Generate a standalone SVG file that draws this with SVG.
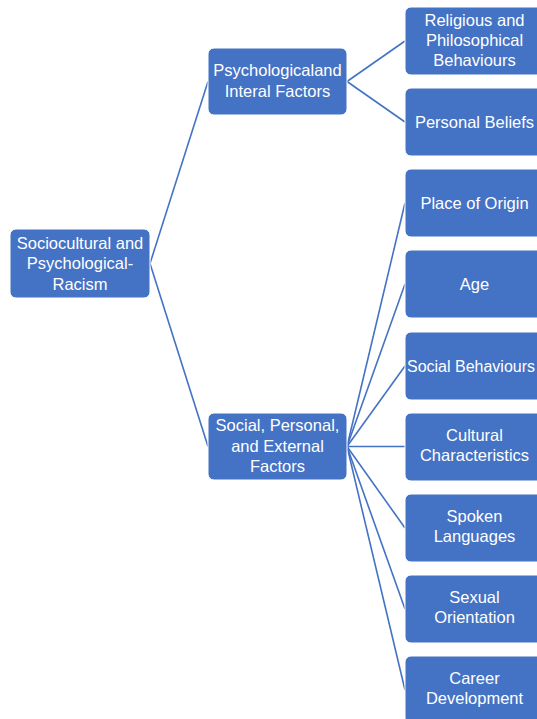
<svg xmlns="http://www.w3.org/2000/svg" width="537" height="719" viewBox="0 0 537 719">
<style>
.box{fill:#4472C4;stroke:#ffffff;stroke-width:1}
.t{font-family:"Liberation Sans",Arial,sans-serif;font-size:16.5px;fill:#ffffff;text-anchor:middle}
.c{stroke:#4472C4;stroke-width:1.6;fill:none}
</style>
<rect width="537" height="719" fill="#ffffff"/>
<g id="connectors">
<line class="c" x1="150" y1="263.5" x2="208" y2="81.5"/>
<line class="c" x1="150" y1="263.5" x2="208" y2="446.5"/>
<line class="c" x1="347" y1="81.5" x2="405" y2="41"/>
<line class="c" x1="347" y1="81.5" x2="405" y2="122"/>
<line class="c" x1="347" y1="446.5" x2="405" y2="203"/>
<line class="c" x1="347" y1="446.5" x2="405" y2="284"/>
<line class="c" x1="347" y1="446.5" x2="405" y2="366"/>
<line class="c" x1="347" y1="446.5" x2="405" y2="446.5"/>
<line class="c" x1="347" y1="446.5" x2="405" y2="528"/>
<line class="c" x1="347" y1="446.5" x2="405" y2="609"/>
<line class="c" x1="347" y1="446.5" x2="405" y2="690"/>
</g>
<g id="root">
<rect class="box" x="10" y="229" width="140" height="69" rx="6"/>
<text class="t" x="80" y="248.5">Sociocultural and</text>
<text class="t" x="80" y="269">Psychological-</text>
<text class="t" x="80" y="289.5">Racism</text>
</g>
<g id="psych">
<rect class="box" x="208" y="48" width="139" height="67" rx="6"/>
<text class="t" x="277.5" y="76">Psychologicaland</text>
<text class="t" x="277.5" y="97">Interal Factors</text>
</g>
<g id="social">
<rect class="box" x="208" y="413" width="139" height="67" rx="6"/>
<text class="t" x="277.5" y="431">Social, Personal,</text>
<text class="t" x="277.5" y="451.5">and External</text>
<text class="t" x="277.5" y="472">Factors</text>
</g>
<g id="religious">
<rect class="box" x="405" y="7" width="140" height="68" rx="6"/>
<text class="t" x="474.5" y="25.5">Religious and</text>
<text class="t" x="474.5" y="45.5">Philosophical</text>
<text class="t" x="474.5" y="65.5">Behaviours</text>
</g>
<g id="beliefs">
<rect class="box" x="405" y="88" width="140" height="68" rx="6"/>
<text class="t" x="474.5" y="128">Personal Beliefs</text>
</g>
<g id="origin">
<rect class="box" x="405" y="169" width="140" height="68" rx="6"/>
<text class="t" x="474.5" y="208.5">Place of Origin</text>
</g>
<g id="age">
<rect class="box" x="405" y="250" width="140" height="68" rx="6"/>
<text class="t" x="474.5" y="289.5">Age</text>
</g>
<g id="socialbeh">
<rect class="box" x="405" y="332" width="140" height="68" rx="6"/>
<text class="t" x="471" y="371.5" style="font-size:16px">Social Behaviours</text>
</g>
<g id="cultural">
<rect class="box" x="405" y="413" width="140" height="68" rx="6"/>
<text class="t" x="474.5" y="440.5">Cultural</text>
<text class="t" x="474.5" y="461">Characteristics</text>
</g>
<g id="spoken">
<rect class="box" x="405" y="494" width="140" height="68" rx="6"/>
<text class="t" x="474.5" y="521.5">Spoken</text>
<text class="t" x="474.5" y="542">Languages</text>
</g>
<g id="sexual">
<rect class="box" x="405" y="575" width="140" height="68" rx="6"/>
<text class="t" x="474.5" y="602.5">Sexual</text>
<text class="t" x="474.5" y="623">Orientation</text>
</g>
<g id="career">
<rect class="box" x="405" y="656" width="140" height="68" rx="6"/>
<text class="t" x="474.5" y="683.5">Career</text>
<text class="t" x="474.5" y="704">Development</text>
</g>
</svg>
